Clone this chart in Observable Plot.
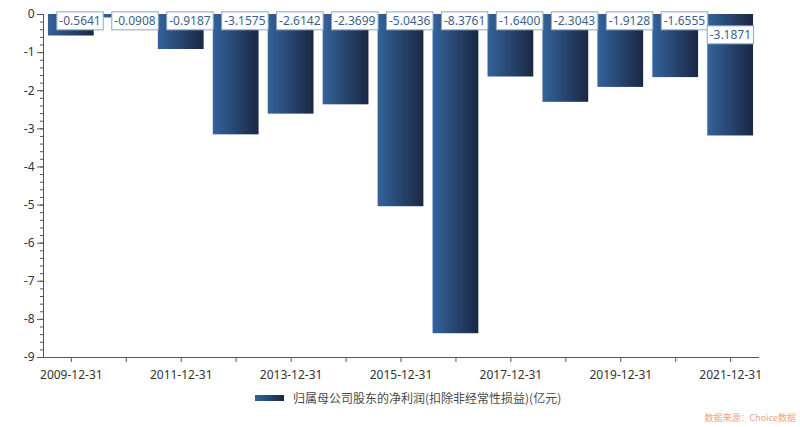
<!DOCTYPE html>
<html><head><meta charset="utf-8">
<script src="https://cdn.jsdelivr.net/npm/d3@7"></script>
<script src="https://cdn.jsdelivr.net/npm/@observablehq/plot@0.6"></script>
<style>
body{margin:0;background:#fff;}
#chart{position:relative;width:800px;height:427px;overflow:hidden;}
#legend{position:absolute;left:255px;top:389px;display:flex;align-items:center;font:12px "Noto Sans CJK SC","Noto Sans",sans-serif;color:#4a4a4a;}
#legend .sw{width:29px;height:6px;margin-right:9px;background:linear-gradient(to right,#34639c,#1a2742);}
#source{position:absolute;right:4px;top:411px;font:9px "Noto Sans CJK SC",sans-serif;color:#f2a27e;}
</style></head><body><div id="chart"></div>
<script>
const dates = ["2009-12-31","2010-12-31","2011-12-31","2012-12-31","2013-12-31","2014-12-31","2015-12-31","2016-12-31","2017-12-31","2018-12-31","2019-12-31","2020-12-31","2021-12-31"];
const values = [-0.5641,-0.0908,-0.9187,-3.1575,-2.6142,-2.3699,-5.0436,-8.3761,-1.6400,-2.3043,-1.9128,-1.6555,-3.1871];
const yTicks = [0,-1,-2,-3,-4,-5,-6,-7,-8,-9];
const yMinorTicks = d3.range(0, 46).map(i => +(-i * 0.2).toFixed(1));
const seriesName = "归属母公司股东的净利润(扣除非经常性损益)(亿元)";
const sourceText = "数据来源：Choice数据";

const data = dates.map((d, i) => ({date: d, value: values[i]}));
const fmt = v => v.toFixed(4);

const svg = Plot.plot({
  width: 800,
  height: 385,
  marginLeft: 43,
  marginRight: 42,
  marginTop: 14,
  marginBottom: 28,
  style: {fontFamily: "'Noto Sans', sans-serif", fontSize: "12px", color: "#333", background: "#fff"},
  x: {type: "band", domain: dates, paddingInner: 0.167, paddingOuter: 0.09, round: false, label: null},
  y: {domain: [-9, 0], label: null},
  marks: [
    Plot.barY(data, {x: "date", y: "value", fill: "url(#barGrad)"}),
    Plot.axisY({ticks: yTicks, tickSize: 6, tickPadding: 3, stroke: "#555", fill: "#333", fontSize: 12, tickFormat: d => String(d)}),
    Plot.axisY({ticks: yMinorTicks, tickSize: 3, text: null, stroke: "#555", ariaLabel: "minor-y"}),
    Plot.axisX({tickSize: 5, tickPadding: 8, stroke: "#555", fill: "#333", fontSize: 12,
      tickFormat: (d) => dates.indexOf(d) % 2 === 0 ? d : ""}),
    Plot.frame({anchor: "left", stroke: "#555"}),
    Plot.frame({anchor: "bottom", stroke: "#555"}),
    Plot.text(data.slice(0, -1), {x: "date", y: () => 0, text: d => fmt(d.value), textAnchor: "start", dx: -12, dy: 7, fill: "#3c5f8a", fontSize: 12, className: "vlabel"}),
    Plot.text(data.slice(-1), {x: "date", y: () => 0, text: d => fmt(d.value), textAnchor: "start", dx: -21, dy: 21, fill: "#3c5f8a", fontSize: 12, className: "vlabel"})
  ]
});

const chart = document.getElementById("chart");
chart.appendChild(svg);

const s = d3.select(svg);
const defs = s.insert("defs", ":first-child");
const g = defs.append("linearGradient").attr("id", "barGrad").attr("x1", 0).attr("x2", 1).attr("y1", 0).attr("y2", 0);
g.append("stop").attr("offset", "0%").attr("stop-color", "#34639c");
g.append("stop").attr("offset", "100%").attr("stop-color", "#1a2742");

s.selectAll("g.vlabel text").each(function() {
  const b = this.getBBox();
  d3.select(this.parentNode).insert("rect", () => this)
    .attr("x", b.x - 2.5).attr("y", b.y - 0.5)
    .attr("width", b.width + 5).attr("height", b.height + 1)
    .attr("fill", "#fff").attr("stroke", "#8fa6c2").attr("stroke-width", 1)
    .attr("transform", this.getAttribute("transform"));
});

const legend = document.createElement("div");
legend.id = "legend";
legend.innerHTML = '<div class="sw"></div><span></span>';
legend.querySelector("span").textContent = seriesName;
chart.appendChild(legend);

const src = document.createElement("div");
src.id = "source";
src.textContent = sourceText;
chart.appendChild(src);
</script></body></html>
